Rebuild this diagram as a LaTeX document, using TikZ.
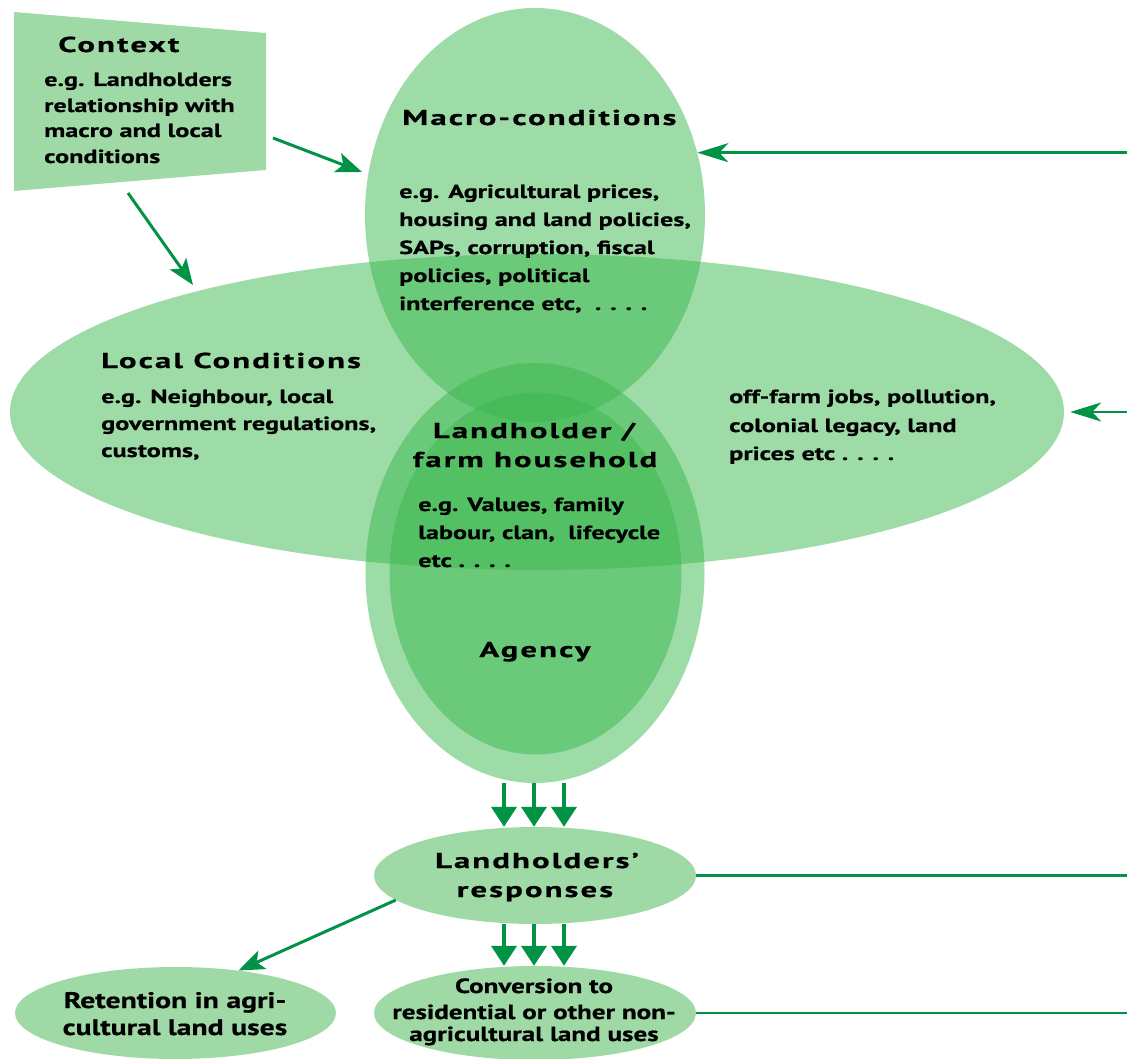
\documentclass[tikz,border=0pt]{standalone}
\usepackage{fontspec}
\setmainfont{PT Sans}
\newfontfamily\bodyfam{PT Sans}[FakeStretch=1.38,FakeBold=0.6]
\newfontfamily\retfam{PT Sans}[FakeStretch=1.32,FakeBold=0.6]
\newfontfamily\titlefam{PT Sans}[FakeStretch=1.52,LetterSpace=10,FakeBold=0.8]
\usetikzlibrary{shapes.geometric,arrows.meta}
\definecolor{cgreen}{RGB}{59,183,79}
\definecolor{lgreen}{RGB}{159,218,166}
\definecolor{agreen}{RGB}{0,146,69}
\newcommand\bodyfnt{\bodyfam\bfseries\fontsize{19}{23}\selectfont}
\newcommand\bigfnt{\retfam\bfseries\fontsize{22.5}{27}\selectfont}
\newcommand\convfnt{\retfam\bfseries\fontsize{20.5}{25}\selectfont}
\newcommand\titlefnt{\titlefam\bfseries\fontsize{21.5}{25}\selectfont}
\begin{document}
\begin{tikzpicture}[x=1pt,y=-1pt,
  blob/.style={ellipse,fill=cgreen,fill opacity=0.5,inner sep=0pt},
  lblob/.style={ellipse,fill=lgreen,inner sep=0pt},
  bodytxt/.style={anchor=base west,inner sep=0pt,font=\bodyfnt},
  convtxt/.style={anchor=base,inner sep=0pt,font=\convfnt},
  bigtxt/.style={anchor=base,inner sep=0pt,font=\bigfnt},
  titletxt/.style={anchor=base,inner sep=0pt,font=\titlefnt},
  titlew/.style={anchor=base west,inner sep=0pt,font=\titlefnt},
  harr/.style={draw=agreen,line width=2.5pt,-{Stealth[length=31pt,width=19pt,inset=9pt]}},
  sarr/.style={draw=agreen,line width=3pt,-{Stealth[length=26pt,width=20pt,inset=6pt]}},
  darr/.style={draw=agreen,line width=4pt,-{Triangle[length=20pt,width=25pt]}},
  plain/.style={draw=agreen,line width=2.5pt}]
\useasboundingbox (0,0) rectangle (1127,1059);
\coordinate (E) at (1127,0);
% context box
\fill[lgreen] (14,12) -- (266,33) -- (266,170) -- (14,191) -- cycle;
% ellipses
\node[blob,minimum width=340pt,minimum height=414pt] (macro) at (535,215) {};
\node[blob,minimum width=1054pt,minimum height=316pt] (local) at (537,412) {};
\node[blob,minimum width=339pt,minimum height=420pt] (agout) at (535,573) {};
\node[blob,minimum width=292pt,minimum height=362pt] (agin) at (535.5,573.5) {};
\node[lblob,minimum width=322pt,minimum height=97pt] (resp) at (535,875.5) {};
\node[lblob,minimum width=322pt,minimum height=94pt] (conv) at (535,1013) {};
\node[lblob,minimum width=321pt,minimum height=92pt] (ret) at (175.5,1013) {};
% texts: context
\node[titlew] (t1) at (58,52) {Context};
\node[bodytxt] (c1) at (44,86) {e.g. Landholders};
\node[bodytxt] (c2) at (44,112) {relationship with};
\node[bodytxt] (c3) at (44,137) {macro and local};
\node[bodytxt] (c4) at (44,163) {conditions};
% macro
\node[titlew] (t2) at (402,125) {Macro-conditions};
\node[bodytxt] (m1) at (399,198) {e.g. Agricultural prices,};
\node[bodytxt] (m2) at (399,226) {housing and land policies,};
\node[bodytxt] (m3) at (399,254) {SAPs, corruption, fiscal};
\node[bodytxt] (m4) at (399,282) {policies, political};
\node[bodytxt] (m5) at (399,310) {interference etc,~~. . . .};
% local
\node[titlew] (t3) at (101,368) {Local Conditions};
\node[bodytxt] (l1) at (101,403) {e.g. Neighbour, local};
\node[bodytxt] (l2) at (101,430) {government regulations,};
\node[bodytxt] (l3) at (101,457) {customs,};
\node[bodytxt] (r1) at (729,403) {off-farm jobs, pollution,};
\node[bodytxt] (r2) at (729,432) {colonial legacy, land};
\node[bodytxt] (r3) at (729,460) {prices etc . . . .};
% landholder
\node[titletxt] (t4) at (534,438) {Landholder /};
\node[titletxt] (t5) at (535,467) {farm household};
\node[bodytxt] (a1) at (418,511) {e.g. Values, family};
\node[bodytxt] (a2) at (418,539) {labour, clan,~~lifecycle};
\node[bodytxt] (a3) at (418,567) {etc . . . .};
\node[titletxt] (t6) at (535,657) {Agency};
% bottom
\node[titletxt] (t7) at (537,868) {Landholders’};
\node[titletxt] (t8) at (535,897) {responses};
\node[convtxt] (v1) at (534,993) {Conversion to};
\node[convtxt] (v2) at (534,1019) {residential or other non-};
\node[convtxt] (v3) at (534,1041) {agricultural land uses};
\node[bigtxt] (e1) at (175,1008) {Retention in agri-};
\node[bigtxt] (e2) at (175,1035) {cultural land uses};
% connectors
\coordinate (ca1s) at (273,138);
\coordinate (ca1e) at (362,172);
\coordinate (ca2s) at (128,193);
\coordinate (ca2e) at (193,285);
\draw[sarr] (ca1s) -- (ca1e);
\draw[sarr] (ca2s) -- (ca2e);
\draw[harr] (macro.21 -| E) -- (macro.21);
\draw[harr] (local.east -| E) -- ([xshift=6pt]local.east);
\draw[plain] (resp.east) -- (resp.east -| E);
\draw[plain] (conv.east) -- (conv.east -| E);
\foreach \s in {-31,-1,29} {
  \draw[darr] ([xshift=\s pt]agout.south) -- ([xshift=\s pt]agout.south |- resp.north);
  \draw[darr] ([xshift=\s pt]resp.south) -- ([xshift=\s pt]resp.south |- conv.north);
}
\draw[sarr] (resp.190) -- (ret.34);
\end{tikzpicture}
\end{document}
